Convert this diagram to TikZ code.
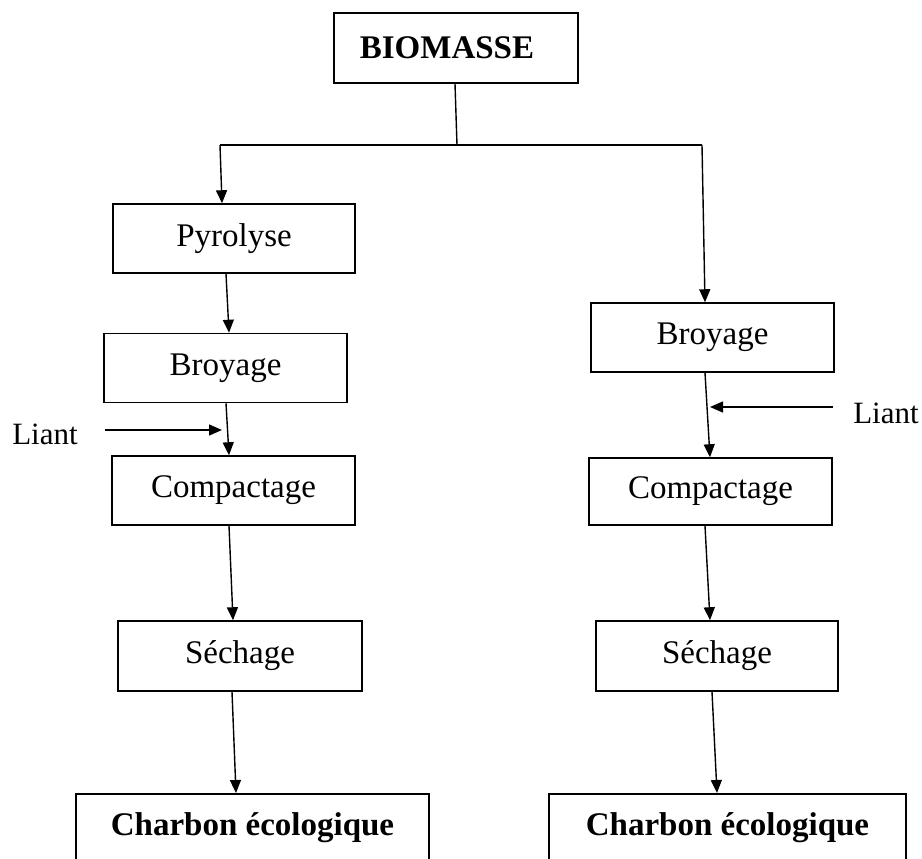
\documentclass[tikz,border=0pt]{standalone}
\usepackage{fontspec}
\setmainfont{Liberation Serif}
\usetikzlibrary{arrows.meta}
\begin{document}
\begin{tikzpicture}[x=1pt,y=-1pt,
  box/.style={draw,line width=1.5pt,inner sep=0pt,font=\fontsize{33}{40}\selectfont},
  endbox/.style={draw,line width=1.5pt,inner xsep=0pt,inner ysep=0pt,anchor=north,
    font=\fontsize{33}{40}\selectfont\bfseries,text height=42pt,text depth=40pt},
  arr/.style={line width=1.4pt,-{Triangle[length=13pt,width=11pt]}},
  ln/.style={line width=1.4pt},
  lbl/.style={font=\fontsize{31}{36}\selectfont,inner sep=0pt}]
\useasboundingbox (0,0) rectangle (922,859);
\clip (0,0) rectangle (922,859);
\fill[white] (0,0) rectangle (922,859);

% nodes
\node[box,font=\fontsize{33}{40}\selectfont\bfseries,minimum width=244pt,minimum height=70pt] (bio) at (456,48) {\hspace*{-18pt}BIOMASSE};
\node[box,minimum width=242pt,minimum height=69pt] (pyr) at (234,238.5) {Pyrolyse};
\node[box,minimum width=243pt,minimum height=69pt] (broL) at (225.5,368) {Broyage};
\node[box,minimum width=243pt,minimum height=69pt] (compL) at (233.5,490.5) {Compactage};
\node[box,minimum width=244pt,minimum height=70pt] (sechL) at (240,656) {S\'echage};
\node[endbox,minimum width=353pt] (charL) at (252.5,793) {Charbon \'ecologique};

\node[box,minimum width=243pt,minimum height=69pt] (broR) at (712.5,337.5) {Broyage};
\node[box,minimum width=243pt,minimum height=67pt] (compR) at (710.5,491.5) {Compactage};
\node[box,minimum width=242pt,minimum height=70pt] (sechR) at (717,656) {S\'echage};
\node[endbox,minimum width=357pt] (charR) at (727.5,793) {Charbon \'ecologique};

\node[lbl] (liantL) at (45,434) {Liant};
\node[lbl] (liantR) at (886,413) {Liant};

\coordinate (split) at (457,145);
\coordinate (splitL) at (220,145);
\coordinate (splitR) at (702,145);
\coordinate (liantLs) at (105,430);
\coordinate (liantRs) at (833,407);

% connectors
\draw[ln] ([xshift=-1pt]bio.south) -- (split);
\draw[ln] (splitL) -- (splitR);
\draw[arr] (splitL) -- ([xshift=-12pt]pyr.north);
\draw[arr] (splitR) -- ([xshift=-7.5pt]broR.north);

\draw[arr] ([xshift=-8pt]pyr.south) -- ([xshift=3.5pt]broL.north);
\draw[arr] ([xshift=0.5pt]broL.south) -- ([xshift=-4.5pt]compL.north);
\draw[arr] ([xshift=-4.5pt]compL.south) -- ([xshift=-7pt]sechL.north);
\draw[arr] ([xshift=-8pt]sechL.south) -- ([xshift=-16.5pt]charL.north);

\draw[arr] ([xshift=-7.5pt]broR.south) -- ([xshift=-0.5pt]compR.north);
\draw[arr] ([xshift=-5.5pt]compR.south) -- ([xshift=-7pt]sechR.north);
\draw[arr] ([xshift=-5pt]sechR.south) -- ([xshift=-10.5pt]charR.north);

\draw[arr] (liantLs) -- (222,430);
\draw[arr] (liantRs) -- (710,407);
\end{tikzpicture}
\end{document}
